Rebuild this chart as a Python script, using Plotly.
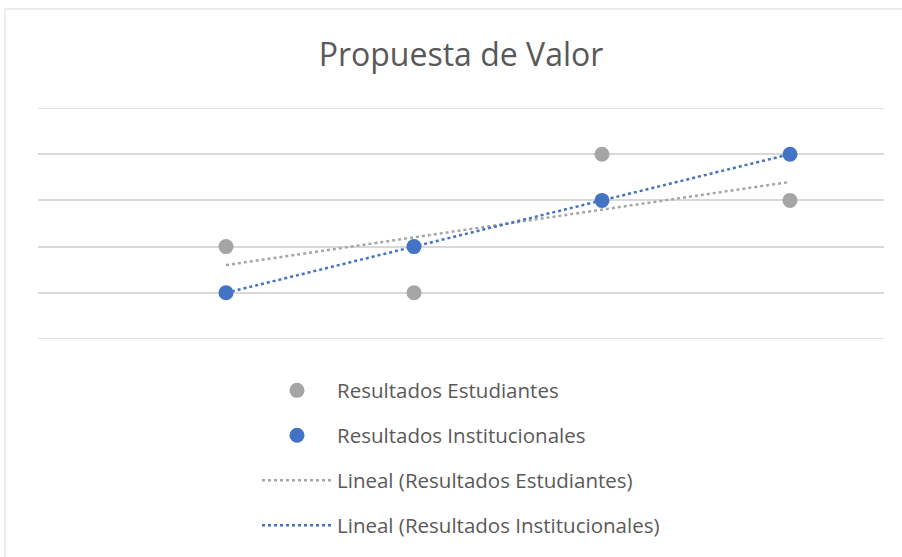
import numpy as np
import plotly.graph_objects as go

x_vals = [1, 2, 3, 4]
estudiantes = [2, 1, 4, 3]
institucionales = [1, 2, 3, 4]

GRAY = "#A5A5A5"
BLUE = "#4472C4"
TXT = "#595959"
GRID = "#D9D9D9"

def trend(xs, ys):
    m, b = np.polyfit(xs, ys, 1)
    xx = np.array([min(xs), max(xs)], dtype=float)
    return xx, m * xx + b

fig = go.Figure()
fig.add_trace(go.Scatter(x=x_vals, y=estudiantes, mode="markers", name="Resultados Estudiantes",
                         marker=dict(color=GRAY, size=15), legendgroup="a"))
fig.add_trace(go.Scatter(x=x_vals, y=institucionales, mode="markers", name="Resultados Institucionales",
                         marker=dict(color=BLUE, size=15), legendgroup="b"))
tx, ty = trend(x_vals, estudiantes)
fig.add_trace(go.Scatter(x=tx, y=ty, mode="lines", name="Lineal (Resultados Estudiantes)",
                         line=dict(color=GRAY, width=2.5, dash="dot"), legendgroup="c"))
tx, ty = trend(x_vals, institucionales)
fig.add_trace(go.Scatter(x=tx, y=ty, mode="lines", name="Lineal (Resultados Institucionales)",
                         line=dict(color=BLUE, width=2.5, dash="dot"), legendgroup="d"))

W, H = 902, 557
L, R, T, B = 38, 18, 108, 218
pw, ph = W - L - R, H - T - B

fig.update_layout(
    width=W, height=H, autosize=False,
    margin=dict(l=L, r=R, t=T, b=B, autoexpand=False),
    paper_bgcolor="white", plot_bgcolor="white",
    font=dict(family="Open Sans, sans-serif", color=TXT),
    title=dict(text="Propuesta de Valor", x=0.5 * (L + L + pw) / W, xanchor="center",
               y=1 - 55 / H, yanchor="middle", font=dict(size=32, color=TXT)),
    xaxis=dict(range=[0, 4.5], showgrid=False, zeroline=False, showticklabels=False,
               showline=False, ticks=""),
    yaxis=dict(range=[0, 5], dtick=1, showgrid=True, gridcolor=GRID, gridwidth=1.5,
               zeroline=False, showticklabels=False, showline=False, ticks=""),
    showlegend=True,
    legend=dict(orientation="v", x=(262 - L - 5) / pw, xanchor="left",
                y=-(370.5 - (T + ph)) / ph, yanchor="top",
                font=dict(size=20.5, color=TXT), tracegroupgap=15.3, itemwidth=70,
                bgcolor="rgba(0,0,0,0)"),
    shapes=[dict(type="rect", xref="paper", yref="paper",
                 x0=(5 - L) / pw, x1=(W + 20 - L) / pw,
                 y0=-(H + 20 - T - ph) / ph, y1=(T + ph - 9) / ph,
                 line=dict(color=GRID, width=1), layer="below")],
)
for yv in (0, 5):
    fig.add_shape(type="line", xref="paper", yref="y", x0=0, x1=1, y0=yv, y1=yv,
                  line=dict(color=GRID, width=1.5), layer="below")

fig.write_html("out.html", config={"responsive": False, "displayModeBar": False},
               post_script="document.body.style.margin='0';document.body.style.overflow='hidden';")
